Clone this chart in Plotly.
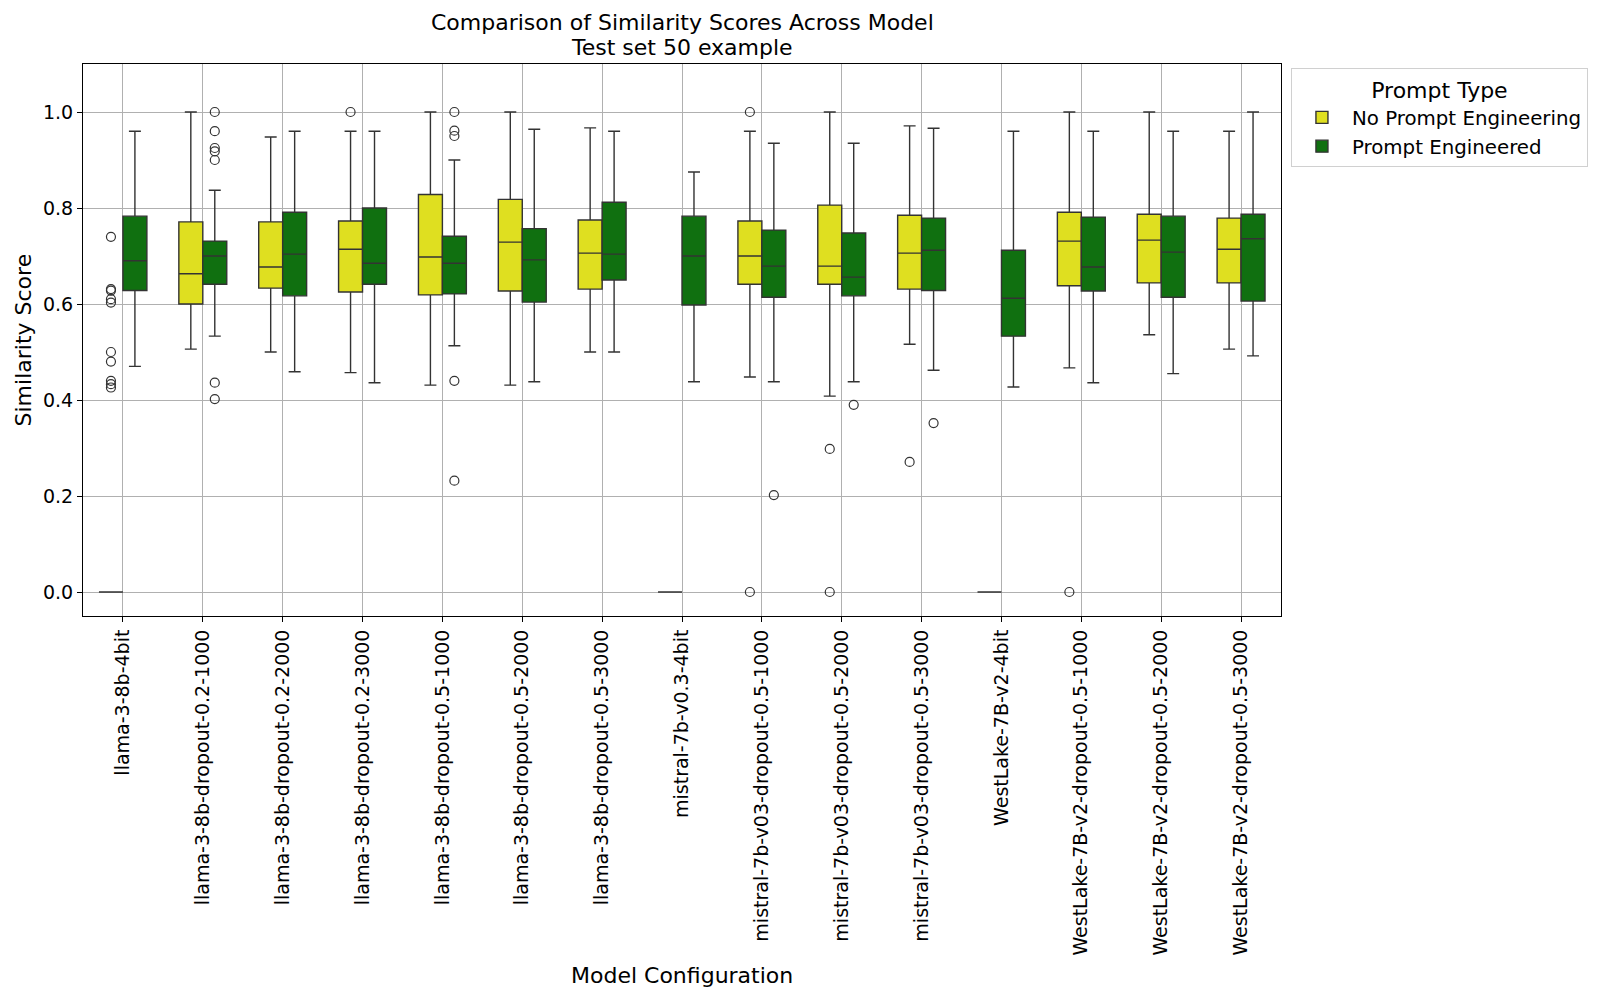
import plotly.graph_objects as go

# model configurations (x axis)
models = [
    "llama-3-8b-4bit", "llama-3-8b-dropout-0.2-1000", "llama-3-8b-dropout-0.2-2000",
    "llama-3-8b-dropout-0.2-3000", "llama-3-8b-dropout-0.5-1000", "llama-3-8b-dropout-0.5-2000",
    "llama-3-8b-dropout-0.5-3000", "mistral-7b-v0.3-4bit", "mistral-7b-v03-dropout-0.5-1000",
    "mistral-7b-v03-dropout-0.5-2000", "mistral-7b-v03-dropout-0.5-3000", "WestLake-7B-v2-4bit",
    "WestLake-7B-v2-dropout-0.5-1000", "WestLake-7B-v2-dropout-0.5-2000", "WestLake-7B-v2-dropout-0.5-3000",
]

# No Prompt Engineering - box stats
np_low = [0.0, 0.506, 0.500, 0.457, 0.431, 0.431, 0.500, 0.0, 0.448, 0.408, 0.516, 0.0, 0.467, 0.536, 0.506]
np_q1 = [0.0, 0.600, 0.633, 0.625, 0.619, 0.627, 0.631, 0.0, 0.641, 0.641, 0.631, 0.0, 0.638, 0.644, 0.644]
np_med = [0.0, 0.663, 0.677, 0.714, 0.698, 0.729, 0.706, 0.0, 0.700, 0.679, 0.706, 0.0, 0.731, 0.733, 0.714]
np_q3 = [0.0, 0.771, 0.771, 0.773, 0.828, 0.818, 0.775, 0.0, 0.773, 0.806, 0.785, 0.0, 0.791, 0.787, 0.779]
np_high = [0.0, 1.0, 0.948, 0.960, 1.0, 1.0, 0.967, 0.0, 0.960, 1.0, 0.971, 0.0, 1.0, 1.0, 0.960]
np_out = [
    [0.740, 0.631, 0.628, 0.610, 0.603, 0.500, 0.480, 0.440, 0.433, 0.426],
    [], [], [1.0], [], [], [], [],
    [1.0, 0.0], [0.298, 0.0], [0.271], [], [0.0], [], [],
]

# Prompt Engineered
pe_low = [0.470, 0.533, 0.459, 0.436, 0.513, 0.438, 0.500, 0.438, 0.438, 0.438, 0.462, 0.427, 0.436, 0.455, 0.492]
pe_q1 = [0.628, 0.641, 0.617, 0.641, 0.621, 0.604, 0.650, 0.598, 0.614, 0.617, 0.628, 0.533, 0.627, 0.614, 0.606]
pe_med = [0.690, 0.700, 0.704, 0.685, 0.685, 0.692, 0.704, 0.700, 0.679, 0.656, 0.712, 0.612, 0.677, 0.708, 0.736]
pe_q3 = [0.783, 0.731, 0.791, 0.800, 0.741, 0.757, 0.812, 0.783, 0.754, 0.748, 0.779, 0.712, 0.781, 0.783, 0.787]
pe_high = [0.960, 0.837, 0.960, 0.960, 0.900, 0.964, 0.960, 0.875, 0.935, 0.935, 0.966, 0.960, 0.960, 0.960, 1.0]
pe_out = [
    [], [1.0, 0.960, 0.925, 0.918, 0.900, 0.436, 0.402], [], [],
    [1.0, 0.961, 0.950, 0.440, 0.232], [], [], [], [0.202], [0.390], [0.352], [], [], [], [],
]

line_col = "#333333"
groups = [
    ("No Prompt Engineering", "#DFDF20", -0.15, np_low, np_q1, np_med, np_q3, np_high, np_out),
    ("Prompt Engineered", "#107010", 0.15, pe_low, pe_q1, pe_med, pe_q3, pe_high, pe_out),
]

fig = go.Figure()
for name, color, off, lo, q1, med, q3, hi, outs in groups:
    xs = [i + off for i in range(len(models))]
    fig.add_trace(go.Box(
        name=name, x=xs, q1=q1, median=med, q3=q3, lowerfence=lo, upperfence=hi,
        width=0.3, whiskerwidth=0.5, boxpoints=False,
        fillcolor=color, line=dict(color=line_col, width=1.4),
        hoverinfo="skip",
    ))
    ox, oy = [], []
    for i, vals in enumerate(outs):
        for v in vals:
            ox.append(i + off)
            oy.append(v)
    fig.add_trace(go.Scatter(
        x=ox, y=oy, mode="markers", showlegend=False, hoverinfo="skip",
        marker=dict(symbol="circle-open", size=9, color=line_col, line=dict(width=1.2)),
    ))

font = "DejaVu Sans"
fig.update_layout(
    width=1600, height=1000,
    margin=dict(l=75, r=327, t=56, b=392),
    plot_bgcolor="white", paper_bgcolor="white",
    boxmode="overlay",
    font=dict(family=font, size=19, color="black"),
    legend=dict(
        x=1.0083, y=0.992, xanchor="left", yanchor="top", itemwidth=50,
        title=dict(text="Prompt Type", side="top center", font=dict(size=22)),
        font=dict(size=19.8), bordercolor="#d0d0d0", borderwidth=1, bgcolor="white",
    ),
    annotations=[
        dict(text="Comparison of Similarity Scores Across Model", x=0.5, y=1.075,
             xref="paper", yref="paper", showarrow=False, font=dict(size=22), yanchor="middle"),
        dict(text="Test set 50 example", x=0.5, y=1.029,
             xref="paper", yref="paper", showarrow=False, font=dict(size=22), yanchor="middle"),
        dict(text="Model Configuration", x=0.5, y=-0.651,
             xref="paper", yref="paper", showarrow=False, font=dict(size=22), yanchor="middle"),
        dict(text="Similarity Score", x=-0.0497, y=0.5, textangle=-90,
             xref="paper", yref="paper", showarrow=False, font=dict(size=22),
             xanchor="center", yanchor="middle"),
    ],
)
fig.update_xaxes(
    range=[-0.5, len(models) - 0.5], tickvals=list(range(len(models))), ticktext=models,
    tickangle=-90, showgrid=True, gridcolor="#b0b0b0", gridwidth=1,
    showline=True, linecolor="black", linewidth=1, mirror=True,
    ticks="outside", ticklen=5, tickcolor="black", zeroline=False,
)
fig.update_yaxes(
    range=[-0.05, 1.1], tickvals=[0, 0.2, 0.4, 0.6, 0.8, 1.0], tickformat=".1f",
    showgrid=True, gridcolor="#b0b0b0", gridwidth=1,
    showline=True, linecolor="black", linewidth=1, mirror=True,
    ticks="outside", ticklen=5, tickcolor="black", zeroline=False,
)

fig.write_html("out.html")
